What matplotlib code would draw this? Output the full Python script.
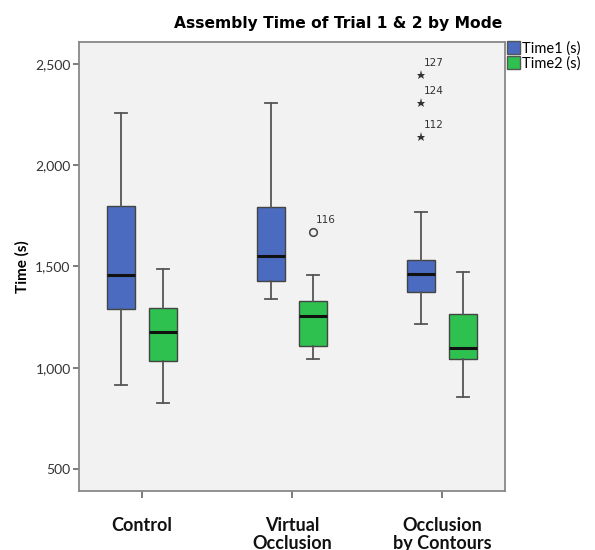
import numpy as np
import matplotlib
matplotlib.use("Agg")
import matplotlib.pyplot as plt
from matplotlib.patches import Patch

# -------------------------------------------------------------------- #
modes = ["Control", "Virtual\nOcclusion", "Occlusion\nby Contours"]
series = ["Time1 (s)", "Time2 (s)"]

# box stats: [whislo, q1, med, q3, whishi] per mode
time1_stats = [[916, 1292, 1460, 1799, 2260],
               [1338, 1430, 1552, 1796, 2306],
               [1217, 1373, 1462, 1531, 1768]]
time2_stats = [[825, 1033, 1176, 1296, 1487],
               [1042, 1105, 1253, 1329, 1458],
               [855, 1045, 1095, 1266, 1472]]

# outliers: (mode index, series index, value, case id, marker)
outliers = [(1, 1, 1672, "116", "o"),
            (2, 0, 2446, "127", "*"),
            (2, 0, 2309, "124", "*"),
            (2, 0, 2138, "112", "*")]

yticks = [500, 1000, 1500, 2000, 2500]

colors = ["#4a6bbf", "#2ec150"]


def make_stats(rows):
    out = []
    for lo, q1, med, q3, hi in rows:
        out.append(dict(whislo=lo, q1=q1, med=med, q3=q3, whishi=hi, fliers=[]))
    return out


def main():
    plt.rcParams['font.family'] = ['Lato', 'DejaVu Sans']
    fig = plt.figure(figsize=(5.95, 5.5), dpi=100)
    fig.patch.set_facecolor("white")
    ax = fig.add_axes([0.1328, 0.1073, 0.716, 0.8164])
    ax.set_facecolor("#f2f2f2")

    offset = 0.14
    width = 0.187
    pos = np.arange(len(modes))
    for k, rows in enumerate([time1_stats, time2_stats]):
        p = pos + (k * 2 - 1) * offset
        ax.bxp(make_stats(rows), positions=p, widths=width, patch_artist=True,
               showfliers=False, capwidths=0.085,
               boxprops=dict(facecolor=colors[k], edgecolor="#444444", linewidth=1.0),
               medianprops=dict(color="#111111", linewidth=2.2),
               whiskerprops=dict(color="#555555", linewidth=1.3),
               capprops=dict(color="#555555", linewidth=1.3))

    for m, s, val, label, mk in outliers:
        x = pos[m] + (s * 2 - 1) * offset
        if mk == "o":
            ax.plot(x, val, marker="o", ms=5.5, mfc="none", mec="#444444", mew=1.1)
        else:
            ax.plot(x, val, marker="*", ms=6.5, color="#333333", mew=0)
        ax.text(x + 0.02, val + 35, label, fontsize=7.5, family="DejaVu Sans",
                color="#333333", va="bottom", ha="left")

    ax.set_xlim(-0.42, 2.42)
    ax.set_ylim(391, 2609)
    ax.set_yticks(yticks)
    ax.set_yticklabels(["{:,}".format(v) for v in yticks], fontsize=10, color="#333333")
    ax.set_xticks(pos)
    ax.set_xticklabels(modes, fontsize=13, fontweight="bold", color="#111111",
                       linespacing=1.05)
    ax.tick_params(axis="x", length=5, width=1.2, color="#666666", pad=14)
    ax.tick_params(axis="y", length=4, width=1.2, color="#666666", pad=2)
    for sp in ax.spines.values():
        sp.set_color("#888888")
        sp.set_linewidth(1.3)

    ax.set_ylabel("Time (s)", fontsize=11, fontweight="bold", labelpad=4)
    fig.text(0.568, 0.958, "Assembly Time of Trial 1 & 2 by Mode", ha="center",
             va="center", fontsize=11.2, fontweight="bold", family="DejaVu Sans")

    handles = [Patch(facecolor=colors[i], edgecolor="#555555") for i in range(2)]
    fig.legend(handles, series, loc="upper left", bbox_to_anchor=(0.852, 0.925),
               frameon=False, fontsize=10.5, handlelength=0.9, handleheight=0.95,
               handletextpad=0.15, labelspacing=0.05, borderaxespad=0, borderpad=0)

    fig.savefig("out.png", dpi=100)


if __name__ == "__main__":
    main()
